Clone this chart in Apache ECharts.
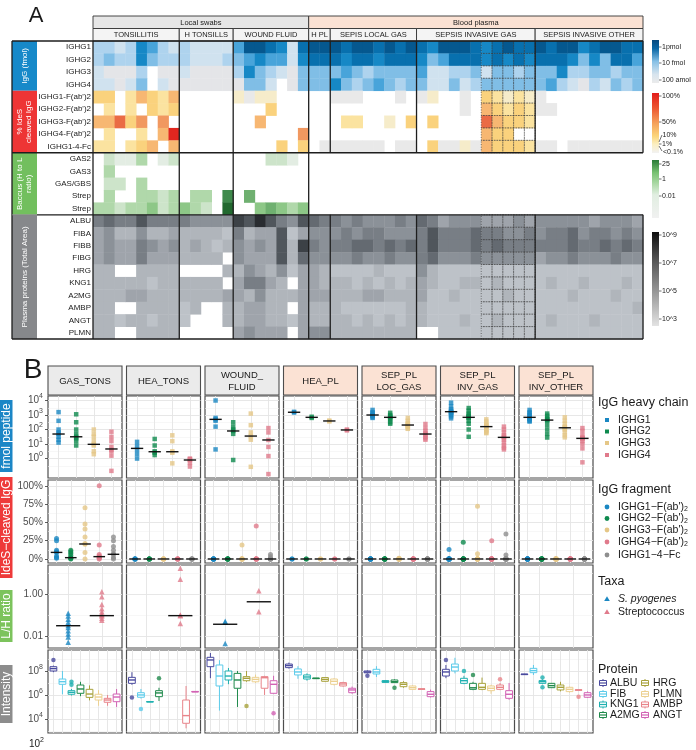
<!DOCTYPE html>
<html><head><meta charset="utf-8">
<script src="https://cdn.jsdelivr.net/npm/echarts@6/dist/echarts.min.js"></script>
<style>html,body{margin:0;padding:0;background:#fff}#c{width:696px;height:750px}</style>
</head><body><div id="c"></div>
<script>
// ---------------- DATA : panel A heatmap ----------------
const groupNames = ['TONSILLITIS','H TONSILLS','WOUND FLUID','H PL','SEPIS LOCAL GAS','SEPSIS INVASIVE GAS','SEPSIS INVASIVE OTHER'];
const groupSizes = [8,5,7,2,8,11,10];
const superNames = ['Local swabs','Blood plasma'];
const superSizes = [20,31];
const iggRowNames = ['IGHG1','IGHG2','IGHG3','IGHG4'];
const idesRowNames = ["IGHG1-F(ab')2","IGHG2-F(ab')2","IGHG3-F(ab')2","IGHG4-F(ab')2",'IGHG1-4-Fc'];
const baccusRowNames = ['GAS2','GAS3','GAS/GBS','Strep','Strep'];
const plasmaRowNames = ['ALBU','FIBA','FIBB','FIBG','HRG','KNG1','A2MG','AMBP','ANGT','PLMN'];
// IgG level (1 = 100 amol ... 8 = 1 pmol), null = no value
const iggLevels = [
 [3,3,2,3,6,5,3,2, 3,2,2,2,2, 5,8,8,7,6,2,7, 8,8, 8,7,8,8,7,8,7,8, 7,6,8,8,8,7,6,7,8,7,7, 8,7,8,8,6,7,8,8,7,7],
 [3,4,3,3,6,4,3,3, 3,2,2,2,3, 4,5,6,5,5,2,6, 7,7, 7,6,7,7,6,7,7,7, 6,4,5,7,7,7,6,7,6,7,6, 7,7,7,6,4,6,4,7,7,5],
 [2,1,1,1,3,null,1,1, 2,1,1,1,1, 3,6,4,3,2,1,4, 4,4, 4,5,4,3,4,4,4,4, 5,2,2,3,3,4,2,4,4,3,4, 4,4,6,3,3,4,4,3,4,4],
 [2,2,1,2,4,null,2,1, 1,1,1,1,1, 1,4,4,2,null,1,4, 4,4, 6,4,3,4,5,4,3,4, 4,2,2,4,2,3,4,4,4,4,4, 4,5,3,2,1,3,2,4,3,4]
];
// % IdeS cleaved level (1 = <0.1% ... 8 = 100%), 0 = empty
const idesLevels = [
 [4,4,0,3,5,4,3,5, 0,0,0,0,0, 2,1,2,2,0,0,0, 0,0, 1,1,1,0,0,0,1,0, 1,2,0,0,1,0,4,3,2,3,2, 1,0,0,0,0,0,0,0,0,0],
 [0,3,0,3,0,4,3,4, 0,0,0,0,0, 0,0,0,4,0,0,0, 0,0, 0,0,0,0,0,0,0,0, 0,0,0,0,1,0,5,4,3,4,3, 1,1,0,0,0,0,0,0,0,0],
 [5,5,7,4,6,0,6,0, 0,0,0,0,0, 0,0,5,0,0,0,0, 0,0, 0,3,3,0,0,2,0,4, 0,4,0,0,0,0,7,5,4,4,3, 0,0,0,0,0,0,0,0,0,0],
 [0,3,0,0,3,0,5,8, 0,0,0,0,0, 0,0,0,0,0,0,6, 0,0, 0,0,0,0,0,0,0,0, 0,0,0,0,0,0,5,4,4,0,0, 0,0,0,0,0,0,0,0,0,0],
 [3,3,0,3,4,5,0,5, 0,0,0,0,0, 0,0,0,0,4,0,4, 0,1, 1,1,1,1,1,0,1,1, 0,4,1,1,2,1,5,4,4,4,3, 1,1,0,1,1,1,1,1,1,1]
];
// Baccus H/L ratio level (local swab columns only), 0 = empty
const baccusLevels = [
 [0,2,1,1,3,0,1,2, 0,0,0,0,0, 0,0,0,2,2,1,0],
 [0,3,0,0,0,0,0,0, 0,0,0,0,0, 0,0,0,0,0,0,0],
 [0,2,2,0,3,0,0,0, 0,0,0,0,0, 0,0,0,0,0,0,0],
 [0,3,0,0,3,3,2,3, 0,3,3,0,6, 0,5,0,0,0,0,0],
 [3,3,2,3,3,4,2,3, 4,3,2,0,7, 0,0,4,5,4,3,4]
];
// plasma protein total area level (1 = 10^3 ... 9 = 10^9), 0 = empty
const plasmaLevels = [
 [5,6,5,5,7,5,5,5, 5,4,4,4,4, 8,7,9,7,5,4,7, 6,5, 5,4,5,4,4,4,5,4, 6,5,3,4,4,4,3,3,3,4,3, 4,4,4,4,4,3,4,4,4,3],
 [3,4,2,2,4,2,2,3, 2,2,2,2,1, 5,2,3,3,7,1,3, 4,4, 4,5,4,5,5,4,4,4, 5,7,5,5,5,6,5,5,4,4,5, 4,5,5,6,4,5,5,4,5,4],
 [3,4,3,3,5,4,3,4, 2,3,2,1,2, 4,3,4,3,7,2,8, 5,4, 5,5,6,6,5,6,5,6, 5,7,5,5,5,6,5,6,5,5,5, 5,5,5,6,5,5,6,5,6,5],
 [3,4,3,3,5,3,3,3, 2,2,2,2,0, 4,3,3,3,7,2,6, 4,4, 4,4,5,4,4,5,4,4, 5,6,4,4,4,5,4,4,4,4,4, 3,4,4,5,4,4,4,5,4,4],
 [2,2,0,0,2,2,2,2, 0,0,0,0,2, 2,4,3,2,4,1,3, 3,2, 1,1,1,1,2,1,1,1, 4,2,1,1,1,1,1,1,1,1,1, 1,1,1,1,1,1,1,1,1,1],
 [2,2,2,2,2,1,2,2, 2,2,2,2,0, 3,5,5,3,2,0,3, 3,2, 2,2,1,2,1,2,1,2, 3,2,1,1,2,2,1,2,1,1,1, 1,2,1,1,2,1,1,1,2,1],
 [2,2,2,3,3,2,2,2, 2,2,2,2,3, 3,2,4,2,2,2,3, 3,3, 2,2,2,3,3,2,2,2, 3,1,1,2,1,1,1,1,2,1,1, 1,1,1,2,1,1,1,2,1,1],
 [2,2,0,0,2,2,2,2, 1,2,0,0,2, 2,3,3,2,2,0,3, 2,2, 2,1,1,1,1,1,1,2, 2,1,1,1,1,1,1,1,1,1,1, 1,1,1,1,1,1,1,1,1,2],
 [2,2,1,2,2,1,2,2, 1,0,0,0,2, 2,3,3,2,2,1,3, 2,2, 2,2,1,2,1,2,1,2, 2,1,1,1,2,1,1,2,1,1,1, 1,2,1,1,1,2,1,1,1,1],
 [2,2,0,0,2,2,2,2, 0,0,0,0,0, 3,4,3,3,3,0,3, 4,4, 2,2,2,2,2,2,2,2, 0,0,1,1,1,1,1,1,1,1,1, 1,1,1,1,1,1,1,1,1,1]
];
const dottedCols = [36,37,38,39,40];
const iggLegendTicks = ['1pmol','10 fmol','100 amol'];
const idesLegendTicks = ['100%','50%','10%','1%','<0.1%'];
const baccusLegendTicks = ['25','1','0.01'];
const plasmaLegendTicks = ['10^9','10^7','10^5','10^3'];

// ---------------- DATA : panel B ----------------
const panelNames = ['GAS_TONS','HEA_TONS','WOUND_\nFLUID','HEA_PL','SEP_PL\nLOC_GAS','SEP_PL\nINV_GAS','SEP_PL\nINV_OTHER'];
const heavyChains = ['IGHG1','IGHG2','IGHG3','IGHG4'];
// log10 fmol peptide, per panel
const fmolIGHG1 = [[3.2,2.6,2.0,1.8,1.7,1.5,1.3,1.1],[1.15,0.85,0.6,0.3,0.0],[4.0,2.8,2.7,2.6,2.2,0.63],[3.22,3.17],[3.35,3.2,3.1,3.0,3.0,2.95,2.85,2.8],[3.85,3.6,3.4,3.3,3.25,3.2,3.15,3.1,3.0,2.9,2.77],[3.35,3.2,3.1,3.0,2.9,2.8,2.75,2.7,2.6,2.55]];
const fmolIGHG2 = [[3.05,2.5,2.0,1.7,1.5,1.4,1.2,0.9],[1.35,0.9,0.5,0.4,0.24],[2.5,2.2,2.0,1.9,1.7,-0.1],[2.88,2.8],[3.15,3.0,2.9,2.85,2.8,2.7,2.5,2.4],[3.48,3.3,3.1,3.0,2.9,2.85,2.8,2.6,2.4,2.0,1.5],[3.1,2.95,2.8,2.7,2.65,2.6,2.3,2.0,1.7,1.45]];
const fmolIGHG3 = [[2.0,1.7,1.5,1.2,1.0,0.9,0.5,0.3],[1.6,1.2,0.5,0.4,-0.33],[3.1,2.3,1.8,1.55,1.3,-0.57],[2.62,2.56],[2.8,2.6,2.45,2.35,2.3,2.2,2.1,2.05],[2.7,2.55,2.4,2.3,2.25,2.2,2.1,2.0,1.9,1.8,1.75],[2.84,2.6,2.4,2.2,2.15,2.1,2.0,1.8,1.6,1.46]];
const fmolIGHG4 = [[1.85,1.5,1.2,0.8,0.6,0.5,0.2,-0.85],[0.0,-0.05,-0.1,-0.3,-0.55],[2.1,1.8,1.28,0.8,0.17,-1.07],[2.0,1.94],[2.38,2.1,1.9,1.75,1.65,1.5,1.4,1.3],[2.2,2.0,1.8,1.6,1.5,1.45,1.3,1.1,0.9,0.75,0.63],[2.1,1.9,1.6,1.45,1.4,1.35,1.2,1.0,0.7,-0.26]];
const fmolMedians = [[1.69,1.5,0.98,0.66],[0.7,0.47,0.47,-0.1],[2.7,1.9,1.55,1.28],[3.19,2.84,2.59,1.97],[3.0,2.84,2.31,1.69],[3.23,2.84,2.2,1.46],[2.84,2.65,2.12,1.39]];
const fragments = ["IGHG1−F(ab')","IGHG2−F(ab')","IGHG3−F(ab')","IGHG4−F(ab')",'IGHG1−4−Fc'];
// % IdeS cleaved, per panel
const idesF1 = [[28,25,12,10,9,4,2,1],[0,0,0,0,0],[0,0,0,0,0,0,0],[0,0],[0,0,0,0,0,0,0,0],[13,0,0,0,0,0,0,0,0,0,0],[0,0,0,0,0,0,0,0,0,0]];
const idesF2 = [[12,10,8,5,2,1.5,1,0],[0,0,0,0,0],[0,0,0,0,0,0,0],[0,0],[0,0,0,0,0,0,0,0],[23,0,0,0,0,0,0,0,0,0,0],[0,0,0,0,0,0,0,0,0,0]];
const idesF3 = [[70,48,41,30,21,20,9,0],[0,0,0,0,0],[19,0,0,0,0,0,0],[0,0],[1,0,0,0,0,0,0,0],[72,7,0,0,0,0,0,0,0,0,0],[0,0,0,0,0,0,0,0,0,0]];
const idesF4 = [[100,19,6,4,3,2,1,0],[0,0,0,0,0],[45,0,0,0,0,0,0],[0,0],[0,0,0,0,0,0,0,0],[25,0,0,0,0,0,0,0,0,0,0],[0,0,0,0,0,0,0,0,0,0]];
const idesFc = [[30,25,17,12,7,6,2,0],[0,0,0,0,0],[6,3,0,0,0,0,0],[0,0],[0,0,0,0,0,0,0,0],[34,5.5,0,0,0,0,0,0,0,0,0],[0,0,0,0,0,0,0,0,0,0]];
const idesMedians = [[9,1.8,20.5,3.2,6.4],[0,0,0,0,0],[0,0,0,0,0],[0,0,0,0,0],[0,0,0,0,0],[0,0,0,0,0],[0,0,0,0,0]];
const taxa = ['S. pyogenes','Streptococcus'];
// log10 L/H ratio, per panel
const lhPyogenes = [[-0.92,-1.05,-1.2,-1.35,-1.5,-1.6,-1.75,-1.9,-2.05,-2.3],[],[-1.3,-1.35,-2.35],[],[],[],[]];
const lhStrep = [[0.11,-0.13,-0.5,-0.7,-0.85,-0.95,-1.0,-1.05,-1.15,-1.25],[1.22,0.7,-1.0,-1.03,-1.4],[0.16,-0.84],[],[],[],[]];
const lhMedians = [[-1.51,-1.03],[null,-1.03],[-1.44,-0.37],[null,null],[null,null],[null,null],[null,null]];
const proteins = ['ALBU','FIB','KNG1','A2MG','HRG','PLMN','AMBP','ANGT'];
// log10 intensity five-number summaries [min,q1,median,q3,max] per protein (null = none)
const intGAS_TONS = [[7.9,8.0,8.2,8.36,8.45],[6.06,6.89,7.11,7.33,8.0],[5.95,6.06,6.22,6.36,6.5],[5.9,6.14,6.5,6.83,7.1],[5.55,5.8,6.08,6.47,6.8],[5.1,5.58,5.83,6.06,6.4],[5.1,5.39,5.58,5.72,6.0],[5.0,5.44,5.83,6.08,6.5]];
const intHEA_TONS = [[6.85,6.97,7.25,7.47,7.9],[5.7,5.81,6.0,6.19,6.5],[5.42,5.43,5.44,5.45,5.46],[5.5,5.86,6.17,6.36,6.6],null,null,[3.22,3.64,4.28,5.58,6.75],[6.27,6.28,6.28,6.29,6.3]];
const intWOUND = [[7.4,8.36,8.92,9.14,9.5],[4.7,6.75,7.58,8.5,8.9],[6.9,7.25,7.58,8.0,8.25],[5.0,6.56,7.25,7.8,8.0],[7.1,7.19,7.39,7.53,8.0],[7.0,7.1,7.3,7.47,7.7],[6.0,6.56,7.44,7.53,7.6],[6.1,6.14,6.89,7.19,7.6]];
const intHEA_PL = [[8.2,8.28,8.45,8.58,8.7],[7.35,7.67,7.92,8.17,8.4],[7.2,7.33,7.5,7.67,7.8],[7.37,7.38,7.39,7.4,7.41],[7.1,7.14,7.3,7.45,7.5],[6.8,6.89,7.14,7.33,7.4],[6.7,6.75,6.92,7.03,7.1],[6.1,6.19,6.42,6.56,6.7]];
const intSEP_LOC = [[7.8,7.85,7.92,8.0,8.05],[7.5,7.75,7.92,8.14,8.4],[7.0,7.05,7.11,7.2,7.25],[7.0,7.03,7.11,7.25,7.3],[6.6,6.69,6.89,7.03,7.15],[6.45,6.47,6.61,6.75,6.8],[6.48,6.49,6.5,6.51,6.52],[5.8,5.86,6.06,6.28,6.45]];
const intSEP_INV = [[7.4,7.58,7.92,8.14,8.5],[7.8,8.0,8.33,8.58,9.1],[6.9,6.97,7.19,7.39,7.6],[6.4,6.47,6.6,6.97,7.1],[6.4,6.47,6.64,6.97,7.45],[6.1,6.36,6.56,6.75,6.85],[6.4,6.47,6.64,6.83,7.0],[5.6,5.72,6.06,6.36,7.0]];
const intSEP_OTHER = [[7.68,7.7,7.72,7.74,7.76],[7.67,7.86,8.03,8.22,8.5],[6.9,6.97,7.11,7.2,7.3],[6.6,6.61,6.78,6.97,7.0],[6.3,6.42,6.64,6.83,7.1],[6.2,6.28,6.47,6.64,6.7],[6.4,6.41,6.42,6.43,6.45],[5.75,5.81,6.0,6.19,6.3]];
// outliers [proteinIndex, log10 intensity]
const outGAS_TONS = [[0,8.92],[2,7.1],[2,6.85]];
const outHEA_TONS = [[0,5.8],[1,4.83],[3,7.4]];
const outWOUND = [[4,5.08],[7,4.47]];
const outHEA_PL = [];
const outSEP_LOC = [[0,7.6],[3,6.61]];
const outSEP_INV = [[0,8.92],[2,8.0],[3,7.67],[6,7.31]];
const outSEP_OTHER = [[2,7.45],[2,6.64],[6,5.86]];

// ---------------- STYLE ----------------
const FONT = 'Liberation Sans, Arial, Helvetica, sans-serif';
const bluePal = ['#e4e5e8','#d0e2ef','#aed3ee','#80bee6','#48a4da','#1688c6','#0870ae','#05588f'];
const idesPal = ['#e9e9e9','#f6ecca','#fbe3a0','#fad27d','#f7b772','#f19860','#ea6b45','#e1261f'];
const greenPal = ['#e3ede3','#cde4ca','#b0d8aa','#8dc787','#6fb070','#3f8a4c','#22692f'];
const grayPal = ['#bdc2c8','#b0b5bb','#9fa4ab','#8b9198','#787e85','#646a71','#50565c','#3c4146','#292c30'];
const chainColors = ['#1a87c2','#0e8a4e','#e5c787','#e07a8b'];
const fragColors = ['#1a87c2','#0e8a4e','#e5c787','#e07a8b','#8e8e8e'];
const taxaColors = ['#1a87c2','#e07a8b'];
const proteinColors = ['#4a4a9e','#5ccbea','#1fb0b0','#208a4c','#a8a23c','#ecd090','#e8848a','#d262b4'];

const HX = 93, HY = 41, HW = 550, HH = 298, NC = 51, NR = 24;
const cw = HW/NC, rh = HH/NR;
const colX = k => HX + k*cw, rowY = r => HY + r*rh;

const g = [];
function rect(x,y,w,h,fill,stroke,lw,z){ g.push({type:'rect', silent:true, z:z||10, shape:{x,y,width:w,height:h}, style:{fill:fill||null, stroke:stroke||null, lineWidth:lw||1}}); }
function line(x1,y1,x2,y2,stroke,lw,z){ g.push({type:'line', silent:true, z:z||20, shape:{x1,y1,x2,y2}, style:{stroke, lineWidth:lw||1}}); }
function text(x,y,t,o){ o=o||{}; g.push({type:'text', silent:true, z:30, x, y, rotation:o.rot||0, style:{text:t, fill:o.color||'#1a1a1a', fontSize:o.size||8, fontFamily:FONT, fontStyle:o.italic?'italic':'normal', align:o.align||'left', verticalAlign:'middle', lineHeight:o.lh||undefined, rich:o.rich}}); }

// ---------------- PANEL A ----------------
const rowIds = [], rowLabels = [];
[iggRowNames, idesRowNames, baccusRowNames, plasmaRowNames].forEach(a=>a.forEach(n=>{rowIds.push('r'+rowIds.length); rowLabels.push(n);}));
const colIds = Array.from({length:NC},(_,i)=>'c'+i);
const palettes = [bluePal, idesPal, greenPal, grayPal];
const blocks = [[iggLevels,0],[idesLevels,4],[baccusLevels,9],[plasmaLevels,14]];
const cellData = [];
blocks.forEach((b,bi)=>b[0].forEach((row,ri)=>row.forEach((v,ci)=>{ if(v) cellData.push([ci, ri+b[1], v, bi]); })));

const grids = [{left:HX, top:HY, width:HW, height:HH, show:false}];
const xAxes = [{gridIndex:0, type:'category', data:colIds, show:false}];
const yAxes = [{gridIndex:0, type:'category', data:rowIds, inverse:true, axisLine:{show:false}, axisTick:{show:false},
  axisLabel:{interval:0, fontSize:8, fontFamily:FONT, color:'#1a1a1a', margin:2, formatter:(v)=>rowLabels[rowIds.indexOf(v)]}, splitLine:{show:false}}];
const series = [];
series.push({type:'custom', xAxisIndex:0, yAxisIndex:0, data:cellData, silent:true, z:2, encode:{x:0,y:1},
  renderItem:(p,api)=>{ const c=api.coord([api.value(0),api.value(1)]); const s=api.size([1,1]);
    const col = palettes[api.value(3)][api.value(2)-1];
    return {type:'rect', shape:{x:c[0]-s[0]/2, y:c[1]-s[1]/2, width:s[0]+0.4, height:s[1]+0.4}, style:{fill:col, stroke:null}}; }});
// dotted overlay cells
const dotted = [];
dottedCols.forEach(k=>{ for(let r=0;r<NR;r++){ if(r>=9 && r<14) continue; dotted.push([k,r]); } });
series.push({type:'custom', xAxisIndex:0, yAxisIndex:0, data:dotted, silent:true, z:5, encode:{x:0,y:1},
  renderItem:(p,api)=>{ const c=api.coord([api.value(0),api.value(1)]); const s=api.size([1,1]);
    return {type:'rect', shape:{x:c[0]-s[0]/2, y:c[1]-s[1]/2, width:s[0], height:s[1]}, style:{fill:null, stroke:'#3a3a3a', lineWidth:0.7, lineDash:[1,1.6]}}; }});

// headers
text(36, 16, 'A', {size:22, align:'center'});
let k0 = 0;
superNames.forEach((n,i)=>{ const x0=colX(k0), x1=colX(k0+superSizes[i]);
  rect(x0, 16, x1-x0, 12.5, i===0?'#e6e6e6':'#fbe2d4', '#333', 0.9);
  text((x0+x1)/2, 22.5, n, {size:7.5, align:'center'}); k0 += superSizes[i]; });
k0 = 0;
groupNames.forEach((n,i)=>{ const x0=colX(k0), x1=colX(k0+groupSizes[i]);
  rect(x0, 28.5, x1-x0, 12.5, '#f4f4f4', '#333', 0.9);
  text((x0+x1)/2, 35, n, {size:7.5, align:'center'}); k0 += groupSizes[i]; });
// left label boxes
const blockRows = [[0,4,'#1789c9','IgG (fmol)'],[4,9,'#ee3535','% IdeS\ncleaved IgG'],[9,14,'#72bf5e','Baccus (H to L\nratio)'],[14,24,'#86888b','Plasma proteins (Total Area)']];
blockRows.forEach(b=>{ rect(12, rowY(b[0]), 25, rowY(b[1])-rowY(b[0]), b[2], null, 0, 8);
  text(24.5, (rowY(b[0])+rowY(b[1]))/2, b[3], {size:8, color:'#fff', align:'center', rot:Math.PI/2, lh:9}); });
// borders
const bc = '#1e1e1e';
line(12, HY, colX(51), HY, bc, 1.3);
line(12, HY+HH, colX(51), HY+HH, bc, 1.3);
line(12, HY, 12, HY+HH, bc, 1.3);
line(HX, HY, HX, HY+HH, bc, 1.3);
line(12, rowY(9), colX(51), rowY(9), bc, 1.3);
line(37, rowY(14), colX(51), rowY(14), bc, 1.3);
line(12, rowY(14), 37, rowY(14), '#888', 0.8);
[8,13,20].forEach(k=>line(colX(k), HY, colX(k), HY+HH, bc, 1.3));
[22,30,41,51].forEach(k=>{ line(colX(k), HY, colX(k), rowY(9), bc, 1.3); line(colX(k), rowY(14), colX(k), HY+HH, bc, 1.3); });
// colour bars
const cbx = 652, cbw = 7;
function cbar(y0,y1,stops){ g.push({type:'rect', silent:true, z:10, shape:{x:cbx,y:y0,width:cbw,height:y1-y0}, style:{fill:new echarts.graphic.LinearGradient(0,0,0,1,stops)}}); }
function cbTick(y,t){ line(cbx+cbw, y, cbx+cbw+2.5, y, '#333', 0.7); text(cbx+cbw+3, y, t, {size:7}); }
cbar(40, 83, [{offset:0,color:'#07497e'},{offset:0.2,color:'#0b67a5'},{offset:0.5,color:'#86c0e6'},{offset:0.8,color:'#d7e4ee'},{offset:1,color:'#ebebeb'}]);
[47,63,80].forEach((y,i)=>cbTick(y, iggLegendTicks[i]));
cbar(93, 153, [{offset:0,color:'#e21d1b'},{offset:0.25,color:'#ec5631'},{offset:0.5,color:'#f5a05a'},{offset:0.72,color:'#fbd57a'},{offset:0.85,color:'#fbeebf'},{offset:1,color:'#f2f2f2'}]);
[96,122].forEach((y,i)=>cbTick(y, idesLegendTicks[i]));
line(cbx+cbw, 142, cbx+cbw+3, 135, '#333', 0.7); text(cbx+cbw+3.5, 135, idesLegendTicks[2], {size:7});
cbTick(144, idesLegendTicks[3]);
line(cbx+cbw, 146, cbx+cbw+3, 151, '#333', 0.7); text(cbx+cbw+4, 152, idesLegendTicks[4], {size:7});
cbar(160, 218, [{offset:0,color:'#2a7a37'},{offset:0.22,color:'#79c273'},{offset:0.4,color:'#a9d8a3'},{offset:0.6,color:'#e1eee1'},{offset:1,color:'#f1f1f1'}]);
[164,179,196].forEach((y,i)=>cbTick(y, baccusLegendTicks[i]));
cbar(232, 326, [{offset:0,color:'#0e0e0e'},{offset:0.3,color:'#555'},{offset:0.65,color:'#9a9a9a'},{offset:1,color:'#e3e3e3'}]);
[235,263,291,319].forEach((y,i)=>cbTick(y, plasmaLegendTicks[i]));

// ---------------- PANEL B ----------------
text(33, 370, 'B', {size:28, align:'center'});
const bLeft = c => 48 + c*78.5, bW = 74;
const bTop = [396, 480, 565, 650], bH = [82, 83, 83, 83];
const supRich = {b:{fontSize:10, lineHeight:15, color:'#4d4d4d', fontFamily:FONT}, s:{fontSize:7, verticalAlign:'top', color:'#4d4d4d', fontFamily:FONT}};
const rowsCfg = [
  {n:4, min:-1.34, max:4.31, major:[0,1,2,3,4], minor:[-0.5,0.5,1.5,2.5,3.5], fmt:v=>'{b|10}{s|'+v+'}'},
  {n:5, min:-5.5, max:108, major:[0,25,50,75,100], minor:[12.5,37.5,62.5,87.5], fmt:v=>v+'%'},
  {n:2, min:-2.57, max:1.38, major:[-2,0], minor:[-1,1], fmt:v=>v===-2?'0.01':'1.00'},
  {n:8, min:2.83, max:9.75, major:[4,6,8], minor:[3,5,7,9], fmt:v=>'{b|10}{s|'+v+'}'}
];
const stripFill = ['#ebebeb','#ebebeb','#ebebeb','#fbe2d4','#fbe2d4','#fbe2d4','#fbe2d4'];
panelNames.forEach((n,c)=>{ rect(bLeft(c), 366, bW, 29, stripFill[c], '#4d4d4d', 1.1, 10);
  text(bLeft(c)+bW/2, 381, n, {size:9.5, align:'center', lh:12, color:'#1a1a1a'}); });

function medianSeries(xi, yi, data, halfW){
  return {type:'custom', xAxisIndex:xi, yAxisIndex:yi, data, silent:true, z:6, encode:{x:0,y:1},
    renderItem:(p,api)=>{ const c=api.coord([api.value(0),api.value(1)]); const w=api.size([halfW*2,0])[0];
      return {type:'line', shape:{x1:c[0]-w/2,y1:c[1],x2:c[0]+w/2,y2:c[1]}, style:{stroke:'#111', lineWidth:1.4}}; }};
}
const fmolAll = [fmolIGHG1,fmolIGHG2,fmolIGHG3,fmolIGHG4];
const idesAll = [idesF1,idesF2,idesF3,idesF4,idesFc];
const lhAll = [lhPyogenes,lhStrep];
const intAll = [intGAS_TONS,intHEA_TONS,intWOUND,intHEA_PL,intSEP_LOC,intSEP_INV,intSEP_OTHER];
const outAll = [outGAS_TONS,outHEA_TONS,outWOUND,outHEA_PL,outSEP_LOC,outSEP_INV,outSEP_OTHER];

for (let r=0;r<4;r++){
  const cfg = rowsCfg[r];
  const cats = Array.from({length:cfg.n},(_,i)=>i+1);
  for (let c=0;c<7;c++){
    const gi = grids.length;
    grids.push({left:bLeft(c), top:bTop[r], width:bW, height:bH[r], show:true, borderColor:'#4d4d4d', borderWidth:1.2, backgroundColor:'#fff'});
    xAxes.push({gridIndex:gi, type:'value', min:0.4, max:cfg.n+0.6, axisLine:{show:false}, axisTick:{show:false, customValues:cats}, axisLabel:{show:false, customValues:cats}, splitLine:{show:true, lineStyle:{color:'#e4e4e4', width:0.9}}});
    const yMaj = yAxes.length;
    yAxes.push({gridIndex:gi, type:'value', min:cfg.min, max:cfg.max, position:'left', axisLine:{show:false},
      axisTick:{show:c===0, customValues:cfg.major, length:3, lineStyle:{color:'#333', width:0.8}},
      axisLabel:{show:c===0, customValues:cfg.major, formatter:cfg.fmt, rich:supRich, color:'#4d4d4d', fontSize:10, fontFamily:FONT, margin:5},
      splitLine:{show:true, lineStyle:{color:'#e4e4e4', width:0.9}}});
    yAxes.push({gridIndex:gi, type:'value', min:cfg.min, max:cfg.max, position:'right', axisLine:{show:false},
      axisTick:{show:false, customValues:cfg.minor}, axisLabel:{show:false, customValues:cfg.minor},
      splitLine:{show:true, lineStyle:{color:'#f2f2f2', width:0.6}}});
    if (r===0){
      const d=[]; fmolAll.forEach((arr,ch)=>arr[c].forEach(v=>d.push({value:[ch+1,v], itemStyle:{color:chainColors[ch]}})));
      series.push({type:'scatter', xAxisIndex:gi, yAxisIndex:yMaj, data:d, symbol:'rect', symbolSize:4.5, silent:true, z:3});
      series.push(medianSeries(gi, yMaj, fmolMedians[c].map((m,i)=>[i+1,m]), 0.35));
    } else if (r===1){
      const d=[]; idesAll.forEach((arr,f)=>arr[c].forEach(v=>d.push({value:[f+1,v], itemStyle:{color:fragColors[f]}})));
      series.push({type:'scatter', xAxisIndex:gi, yAxisIndex:yMaj, data:d, symbol:'circle', symbolSize:5, silent:true, z:3});
      series.push(medianSeries(gi, yMaj, idesMedians[c].map((m,i)=>[i+1,m]), 0.41));
    } else if (r===2){
      const d=[]; lhAll.forEach((arr,t)=>arr[c].forEach(v=>d.push({value:[t+1,v], itemStyle:{color:taxaColors[t]}})));
      series.push({type:'scatter', xAxisIndex:gi, yAxisIndex:yMaj, data:d, symbol:'triangle', symbolSize:5.5, silent:true, z:3});
      const md=[]; lhMedians[c].forEach((m,i)=>{ if(m!==null) md.push([i+1,m]); });
      series.push(medianSeries(gi, yMaj, md, 0.36));
    } else {
      const bd=[]; intAll[c].forEach((s,i)=>{ if(s) bd.push([i+1, s[0], s[1], s[2], s[3], s[4], i]); });
      series.push({type:'custom', xAxisIndex:gi, yAxisIndex:yMaj, data:bd, silent:true, z:4, encode:{x:0, y:[1,2,3,4,5]},
        renderItem:(p,api)=>{ const x=api.value(0);
          const pm=api.coord([x,api.value(1)]), p1=api.coord([x,api.value(2)]), pmed=api.coord([x,api.value(3)]), p3=api.coord([x,api.value(4)]), pM=api.coord([x,api.value(5)]);
          const w=api.size([0.75,0])[0]; const col=proteinColors[api.value(6)];
          return {type:'group', children:[
            {type:'line', shape:{x1:pm[0],y1:pm[1],x2:p1[0],y2:p1[1]}, style:{stroke:col,lineWidth:1}},
            {type:'line', shape:{x1:p3[0],y1:p3[1],x2:pM[0],y2:pM[1]}, style:{stroke:col,lineWidth:1}},
            {type:'rect', shape:{x:p1[0]-w/2,y:p3[1],width:w,height:Math.max(p1[1]-p3[1],0.5)}, style:{fill:'#fff',stroke:col,lineWidth:1}},
            {type:'line', shape:{x1:pmed[0]-w/2,y1:pmed[1],x2:pmed[0]+w/2,y2:pmed[1]}, style:{stroke:col,lineWidth:1.4}}
          ]}; }});
      const od = outAll[c].map(o=>({value:[o[0]+1,o[1]], itemStyle:{color:proteinColors[o[0]]}}));
      series.push({type:'scatter', xAxisIndex:gi, yAxisIndex:yMaj, data:od, symbol:'circle', symbolSize:4.5, silent:true, z:5});
    }
  }
}
// stray 10^2 label under the intensity row
text(44, 744, '{b|10}{s|2}', {align:'right', rich:supRich});
// left row strips
const bStrips = [[400,472,'#1b86c6','fmol peptide'],[477,578,'#ee3a3a','IdeS−cleaved IgG'],[590,642,'#7cc35c','L/H ratio'],[665,723,'#8c8c8c','Intensity']];
bStrips.forEach(s=>{ rect(0, s[0], 12.5, s[1]-s[0], s[2], null, 0, 8); text(6.5, (s[0]+s[1])/2, s[3], {size:12, color:'#fff', align:'center', rot:Math.PI/2}); });
// legends
const LX = 598;
text(LX, 403, 'IgG heavy chain', {size:12.5});
[420,431.5,443,455].forEach((y,i)=>{ rect(605, y-2, 4, 4, chainColors[i], null, 0, 30); text(618, y, heavyChains[i], {size:10.5}); });
text(LX, 490, 'IgG fragment', {size:12.5});
const subRich = {b:{fontSize:10.5, fontFamily:FONT, color:'#1a1a1a'}, u:{fontSize:7, fontFamily:FONT, color:'#1a1a1a', verticalAlign:'bottom', padding:[5,0,0,0]}};
[507,518.5,530,542,555].forEach((y,i)=>{ g.push({type:'circle', silent:true, z:30, shape:{cx:607, cy:y, r:2.4}, style:{fill:fragColors[i]}});
  text(618, y, i<4 ? '{b|'+fragments[i]+'}{u|2}' : '{b|'+fragments[i]+'}', {rich:subRich}); });
text(LX, 582, 'Taxa', {size:12.5});
[599,612].forEach((y,i)=>{ g.push({type:'polygon', silent:true, z:30, shape:{points:[[607,y-2.7],[609.8,y+2],[604.2,y+2]]}, style:{fill:taxaColors[i]}});
  text(618, y, taxa[i], {size:10.5, italic:i===0}); });
text(LX, 670, 'Protein', {size:12.5});
const protRows = [683,694,704.5,715];
proteins.forEach((p,i)=>{ const col = i<4?0:1, y = protRows[i%4], mx = col===0?603:645, tx = col===0?610:653;
  line(mx, y-4, mx, y+4, proteinColors[i], 1, 30);
  rect(mx-3.5, y-2.5, 7, 5, '#fff', proteinColors[i], 1, 31);
  line(mx-3.5, y, mx+3.5, y, proteinColors[i], 1.2, 32);
  text(tx, y, p, {size:10.5}); });

const chart = echarts.init(document.getElementById('c'), null, {renderer:'canvas'});
chart.setOption({animation:false, backgroundColor:'#fff', textStyle:{fontFamily:FONT}, grid:grids, xAxis:xAxes, yAxis:yAxes, series, graphic:{elements:g}});
</script></body></html>
